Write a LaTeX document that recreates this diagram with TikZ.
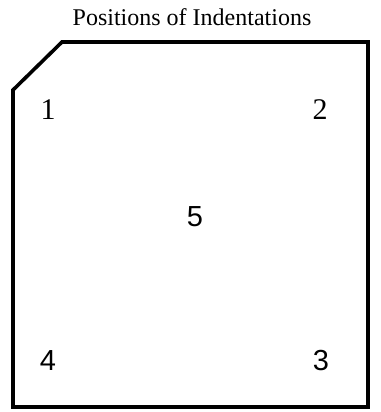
\documentclass[tikz,border=0pt]{standalone}
\usepackage{fontspec}
\setmainfont{Liberation Serif}
\newfontfamily\lsans{Liberation Sans}
\begin{document}
\begin{tikzpicture}[x=1pt,y=-1pt,
  outline/.style={line width=3.6pt,line join=miter},
  serifnum/.style={font=\fontsize{30}{30}\selectfont},
  sansnum/.style={font=\lsans\fontsize{29}{29}\selectfont}]
\useasboundingbox (0,0) rectangle (380,412);
\node[font=\fontsize{24}{24}\selectfont] (title) at (192,17) {Positions of Indentations};
\draw[outline] (13,90) -- (62,42) -- (368,42) -- (368,407) -- (13,407) -- cycle;
\node[serifnum] (p1) at (48,110) {1};
\node[serifnum] (p2) at (320,110) {2};
\node[sansnum] (p5) at (195,217) {5};
\node[sansnum] (p4) at (48,361) {4};
\node[sansnum] (p3) at (321,361) {3};
\end{tikzpicture}
\end{document}
